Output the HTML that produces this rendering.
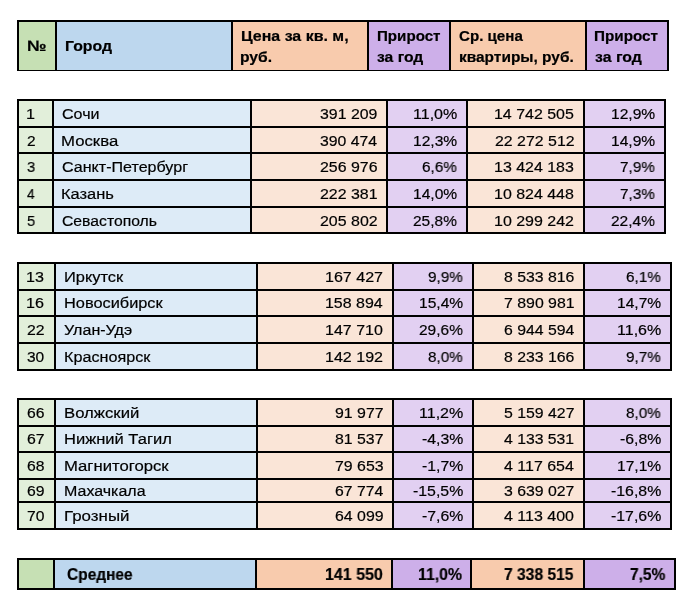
<!DOCTYPE html>
<html><head><meta charset="utf-8"><style>
html,body{margin:0;padding:0;background:#fff;width:691px;height:609px;overflow:hidden}
body{position:relative;font-family:"Liberation Sans",sans-serif;color:#000}
div,span{position:absolute}
span{white-space:nowrap;transform-origin:0 0;will-change:transform;-webkit-text-stroke:0.2px #000}
</style></head><body>
<div style="left:19px;top:22px;width:36px;height:48px;background:#C6E0B4"></div>
<div style="left:57px;top:22px;width:174px;height:48px;background:#BDD7EE"></div>
<div style="left:233px;top:22px;width:134px;height:48px;background:#F8CBAD"></div>
<div style="left:369px;top:22px;width:80px;height:48px;background:#CDAFE9"></div>
<div style="left:451px;top:22px;width:134px;height:48px;background:#F8CBAD"></div>
<div style="left:587px;top:22px;width:80px;height:48px;background:#CDAFE9"></div>
<div style="left:17px;top:20px;width:2px;height:51px;background:#000"></div>
<div style="left:55px;top:20px;width:2px;height:51px;background:#000"></div>
<div style="left:231px;top:20px;width:2px;height:51px;background:#000"></div>
<div style="left:367px;top:20px;width:2px;height:51px;background:#000"></div>
<div style="left:449px;top:20px;width:2px;height:51px;background:#000"></div>
<div style="left:585px;top:20px;width:2px;height:51px;background:#000"></div>
<div style="left:667px;top:20px;width:2px;height:51px;background:#000"></div>
<div style="left:17px;top:20px;width:652px;height:2px;background:#000"></div>
<div style="left:17px;top:70px;width:652px;height:1px;background:#000"></div>
<span style="left:26.82px;top:38.00px;font-size:15.0px;line-height:15.0px;font-weight:700;transform:scale(1.1658,1.0000);transform-origin:0 12.70px;">№</span>
<span style="left:64.53px;top:38.00px;font-size:15.0px;line-height:15.0px;font-weight:700;transform:scale(1.0560,1.0000);transform-origin:0 12.70px;">Город</span>
<span style="left:240.52px;top:28.20px;font-size:15.0px;line-height:15.0px;font-weight:700;transform:scale(1.0634,1.0000);transform-origin:0 12.70px;">Цена за кв. м,</span>
<span style="left:240.38px;top:48.50px;font-size:15.0px;line-height:15.0px;font-weight:700;transform:scale(1.0430,1.0000);transform-origin:0 12.70px;">руб.</span>
<span style="left:376.78px;top:28.20px;font-size:15.0px;line-height:15.0px;font-weight:700;transform:scale(1.0085,1.0000);transform-origin:0 12.70px;">Прирост</span>
<span style="left:376.87px;top:48.50px;font-size:15.0px;line-height:15.0px;font-weight:700;transform:scale(1.0456,1.0000);transform-origin:0 12.70px;">за год</span>
<span style="left:458.99px;top:28.20px;font-size:15.0px;line-height:15.0px;font-weight:700;transform:scale(1.0084,1.0000);transform-origin:0 12.70px;">Ср. цена</span>
<span style="left:458.52px;top:48.50px;font-size:15.0px;line-height:15.0px;font-weight:700;transform:scale(1.0294,1.0000);transform-origin:0 12.70px;">квартиры, руб.</span>
<span style="left:594.37px;top:28.20px;font-size:15.0px;line-height:15.0px;font-weight:700;transform:scale(1.0166,1.0000);transform-origin:0 12.70px;">Прирост</span>
<span style="left:594.56px;top:48.50px;font-size:15.0px;line-height:15.0px;font-weight:700;transform:scale(1.0570,1.0000);transform-origin:0 12.70px;">за год</span>
<div style="left:19px;top:101px;width:33px;height:25px;background:#E2EFDA"></div>
<div style="left:54px;top:101px;width:196px;height:25px;background:#DDEBF7"></div>
<div style="left:252px;top:101px;width:134px;height:25px;background:#FAE5D7"></div>
<div style="left:388px;top:101px;width:78px;height:25px;background:#E2D0F2"></div>
<div style="left:468px;top:101px;width:115px;height:25px;background:#FAE5D7"></div>
<div style="left:585px;top:101px;width:79px;height:25px;background:#E2D0F2"></div>
<div style="left:19px;top:128px;width:33px;height:24px;background:#E2EFDA"></div>
<div style="left:54px;top:128px;width:196px;height:24px;background:#DDEBF7"></div>
<div style="left:252px;top:128px;width:134px;height:24px;background:#FAE5D7"></div>
<div style="left:388px;top:128px;width:78px;height:24px;background:#E2D0F2"></div>
<div style="left:468px;top:128px;width:115px;height:24px;background:#FAE5D7"></div>
<div style="left:585px;top:128px;width:79px;height:24px;background:#E2D0F2"></div>
<div style="left:19px;top:154px;width:33px;height:25px;background:#E2EFDA"></div>
<div style="left:54px;top:154px;width:196px;height:25px;background:#DDEBF7"></div>
<div style="left:252px;top:154px;width:134px;height:25px;background:#FAE5D7"></div>
<div style="left:388px;top:154px;width:78px;height:25px;background:#E2D0F2"></div>
<div style="left:468px;top:154px;width:115px;height:25px;background:#FAE5D7"></div>
<div style="left:585px;top:154px;width:79px;height:25px;background:#E2D0F2"></div>
<div style="left:19px;top:181px;width:33px;height:25px;background:#E2EFDA"></div>
<div style="left:54px;top:181px;width:196px;height:25px;background:#DDEBF7"></div>
<div style="left:252px;top:181px;width:134px;height:25px;background:#FAE5D7"></div>
<div style="left:388px;top:181px;width:78px;height:25px;background:#E2D0F2"></div>
<div style="left:468px;top:181px;width:115px;height:25px;background:#FAE5D7"></div>
<div style="left:585px;top:181px;width:79px;height:25px;background:#E2D0F2"></div>
<div style="left:19px;top:208px;width:33px;height:24px;background:#E2EFDA"></div>
<div style="left:54px;top:208px;width:196px;height:24px;background:#DDEBF7"></div>
<div style="left:252px;top:208px;width:134px;height:24px;background:#FAE5D7"></div>
<div style="left:388px;top:208px;width:78px;height:24px;background:#E2D0F2"></div>
<div style="left:468px;top:208px;width:115px;height:24px;background:#FAE5D7"></div>
<div style="left:585px;top:208px;width:79px;height:24px;background:#E2D0F2"></div>
<div style="left:17px;top:99px;width:2px;height:135px;background:#000"></div>
<div style="left:52px;top:99px;width:2px;height:135px;background:#000"></div>
<div style="left:250px;top:99px;width:2px;height:135px;background:#000"></div>
<div style="left:386px;top:99px;width:2px;height:135px;background:#000"></div>
<div style="left:466px;top:99px;width:2px;height:135px;background:#000"></div>
<div style="left:583px;top:99px;width:2px;height:135px;background:#000"></div>
<div style="left:664px;top:99px;width:2px;height:135px;background:#000"></div>
<div style="left:17px;top:99px;width:649px;height:2px;background:#000"></div>
<div style="left:17px;top:126px;width:649px;height:2px;background:#000"></div>
<div style="left:17px;top:152px;width:649px;height:2px;background:#000"></div>
<div style="left:17px;top:179px;width:649px;height:2px;background:#000"></div>
<div style="left:17px;top:206px;width:649px;height:2px;background:#000"></div>
<div style="left:17px;top:232px;width:649px;height:2px;background:#000"></div>
<span style="left:26.19px;top:105.88px;font-size:15.5px;line-height:15.5px;font-weight:400;transform:scale(1.0442,1.0000);transform-origin:0 13.12px;">1</span>
<span style="left:61.60px;top:105.88px;font-size:15.5px;line-height:15.5px;font-weight:400;transform:scale(1.0357,1.0000);transform-origin:0 13.12px;">Сочи</span>
<span style="left:319.91px;top:105.88px;font-size:15.5px;line-height:15.5px;font-weight:400;transform:scale(1.0235,1.0000);transform-origin:0 13.12px;">391 209</span>
<span style="left:412.80px;top:105.88px;font-size:15.5px;line-height:15.5px;font-weight:400;transform:scale(1.0347,1.0000);transform-origin:0 13.12px;">11,0%</span>
<span style="left:494.30px;top:105.88px;font-size:15.5px;line-height:15.5px;font-weight:400;transform:scale(1.0291,1.0000);transform-origin:0 13.12px;">14 742 505</span>
<span style="left:610.83px;top:105.88px;font-size:15.5px;line-height:15.5px;font-weight:400;transform:scale(1.0062,1.0000);transform-origin:0 13.12px;">12,9%</span>
<span style="left:26.63px;top:132.88px;font-size:15.5px;line-height:15.5px;font-weight:400;transform:scale(0.9926,1.0000);transform-origin:0 13.12px;">2</span>
<span style="left:61.02px;top:132.88px;font-size:15.5px;line-height:15.5px;font-weight:400;transform:scale(1.0811,1.0000);transform-origin:0 13.12px;">Москва</span>
<span style="left:319.91px;top:132.88px;font-size:15.5px;line-height:15.5px;font-weight:400;transform:scale(1.0184,1.0000);transform-origin:0 13.12px;">390 474</span>
<span style="left:412.83px;top:132.88px;font-size:15.5px;line-height:15.5px;font-weight:400;transform:scale(1.0062,1.0000);transform-origin:0 13.12px;">12,3%</span>
<span style="left:494.70px;top:132.88px;font-size:15.5px;line-height:15.5px;font-weight:400;transform:scale(1.0259,1.0000);transform-origin:0 13.12px;">22 272 512</span>
<span style="left:610.83px;top:132.88px;font-size:15.5px;line-height:15.5px;font-weight:400;transform:scale(1.0062,1.0000);transform-origin:0 13.12px;">14,9%</span>
<span style="left:26.85px;top:158.88px;font-size:15.5px;line-height:15.5px;font-weight:400;transform:scale(0.9508,1.0000);transform-origin:0 13.12px;">3</span>
<span style="left:61.60px;top:158.88px;font-size:15.5px;line-height:15.5px;font-weight:400;transform:scale(1.0364,1.0000);transform-origin:0 13.12px;">Санкт-Петербург</span>
<span style="left:319.70px;top:158.88px;font-size:15.5px;line-height:15.5px;font-weight:400;transform:scale(1.0264,1.0000);transform-origin:0 13.12px;">256 976</span>
<span style="left:422.24px;top:158.88px;font-size:15.5px;line-height:15.5px;font-weight:400;transform:scale(0.9858,1.0000);transform-origin:0 13.12px;">6,6%</span>
<span style="left:494.30px;top:158.88px;font-size:15.5px;line-height:15.5px;font-weight:400;transform:scale(1.0296,1.0000);transform-origin:0 13.12px;">13 424 183</span>
<span style="left:620.20px;top:158.88px;font-size:15.5px;line-height:15.5px;font-weight:400;transform:scale(0.9869,1.0000);transform-origin:0 13.12px;">7,9%</span>
<span style="left:27.09px;top:185.88px;font-size:15.5px;line-height:15.5px;font-weight:400;transform:scale(0.8943,1.0000);transform-origin:0 13.12px;">4</span>
<span style="left:61.04px;top:185.88px;font-size:15.5px;line-height:15.5px;font-weight:400;transform:scale(1.0619,1.0000);transform-origin:0 13.12px;">Казань</span>
<span style="left:319.70px;top:185.88px;font-size:15.5px;line-height:15.5px;font-weight:400;transform:scale(1.0279,1.0000);transform-origin:0 13.12px;">222 381</span>
<span style="left:412.83px;top:185.88px;font-size:15.5px;line-height:15.5px;font-weight:400;transform:scale(1.0062,1.0000);transform-origin:0 13.12px;">14,0%</span>
<span style="left:494.30px;top:185.88px;font-size:15.5px;line-height:15.5px;font-weight:400;transform:scale(1.0296,1.0000);transform-origin:0 13.12px;">10 824 448</span>
<span style="left:620.20px;top:185.88px;font-size:15.5px;line-height:15.5px;font-weight:400;transform:scale(0.9869,1.0000);transform-origin:0 13.12px;">7,3%</span>
<span style="left:26.81px;top:212.88px;font-size:15.5px;line-height:15.5px;font-weight:400;transform:scale(0.9508,1.0000);transform-origin:0 13.12px;">5</span>
<span style="left:61.61px;top:212.88px;font-size:15.5px;line-height:15.5px;font-weight:400;transform:scale(1.0143,1.0000);transform-origin:0 13.12px;">Севастополь</span>
<span style="left:319.70px;top:212.88px;font-size:15.5px;line-height:15.5px;font-weight:400;transform:scale(1.0286,1.0000);transform-origin:0 13.12px;">205 802</span>
<span style="left:413.23px;top:212.88px;font-size:15.5px;line-height:15.5px;font-weight:400;transform:scale(0.9971,1.0000);transform-origin:0 13.12px;">25,8%</span>
<span style="left:494.30px;top:212.88px;font-size:15.5px;line-height:15.5px;font-weight:400;transform:scale(1.0312,1.0000);transform-origin:0 13.12px;">10 299 242</span>
<span style="left:611.23px;top:212.88px;font-size:15.5px;line-height:15.5px;font-weight:400;transform:scale(0.9971,1.0000);transform-origin:0 13.12px;">22,4%</span>
<div style="left:19px;top:264px;width:35px;height:25px;background:#E2EFDA"></div>
<div style="left:56px;top:264px;width:200px;height:25px;background:#DDEBF7"></div>
<div style="left:258px;top:264px;width:134px;height:25px;background:#FAE5D7"></div>
<div style="left:394px;top:264px;width:78px;height:25px;background:#E2D0F2"></div>
<div style="left:474px;top:264px;width:109px;height:25px;background:#FAE5D7"></div>
<div style="left:585px;top:264px;width:85px;height:25px;background:#E2D0F2"></div>
<div style="left:19px;top:291px;width:35px;height:24px;background:#E2EFDA"></div>
<div style="left:56px;top:291px;width:200px;height:24px;background:#DDEBF7"></div>
<div style="left:258px;top:291px;width:134px;height:24px;background:#FAE5D7"></div>
<div style="left:394px;top:291px;width:78px;height:24px;background:#E2D0F2"></div>
<div style="left:474px;top:291px;width:109px;height:24px;background:#FAE5D7"></div>
<div style="left:585px;top:291px;width:85px;height:24px;background:#E2D0F2"></div>
<div style="left:19px;top:317px;width:35px;height:25px;background:#E2EFDA"></div>
<div style="left:56px;top:317px;width:200px;height:25px;background:#DDEBF7"></div>
<div style="left:258px;top:317px;width:134px;height:25px;background:#FAE5D7"></div>
<div style="left:394px;top:317px;width:78px;height:25px;background:#E2D0F2"></div>
<div style="left:474px;top:317px;width:109px;height:25px;background:#FAE5D7"></div>
<div style="left:585px;top:317px;width:85px;height:25px;background:#E2D0F2"></div>
<div style="left:19px;top:344px;width:35px;height:25px;background:#E2EFDA"></div>
<div style="left:56px;top:344px;width:200px;height:25px;background:#DDEBF7"></div>
<div style="left:258px;top:344px;width:134px;height:25px;background:#FAE5D7"></div>
<div style="left:394px;top:344px;width:78px;height:25px;background:#E2D0F2"></div>
<div style="left:474px;top:344px;width:109px;height:25px;background:#FAE5D7"></div>
<div style="left:585px;top:344px;width:85px;height:25px;background:#E2D0F2"></div>
<div style="left:17px;top:262px;width:2px;height:109px;background:#000"></div>
<div style="left:54px;top:262px;width:2px;height:109px;background:#000"></div>
<div style="left:256px;top:262px;width:2px;height:109px;background:#000"></div>
<div style="left:392px;top:262px;width:2px;height:109px;background:#000"></div>
<div style="left:472px;top:262px;width:2px;height:109px;background:#000"></div>
<div style="left:583px;top:262px;width:2px;height:109px;background:#000"></div>
<div style="left:670px;top:262px;width:2px;height:109px;background:#000"></div>
<div style="left:17px;top:262px;width:655px;height:2px;background:#000"></div>
<div style="left:17px;top:289px;width:655px;height:2px;background:#000"></div>
<div style="left:17px;top:315px;width:655px;height:2px;background:#000"></div>
<div style="left:17px;top:342px;width:655px;height:2px;background:#000"></div>
<div style="left:17px;top:369px;width:655px;height:2px;background:#000"></div>
<span style="left:26.19px;top:268.88px;font-size:15.5px;line-height:15.5px;font-weight:400;transform:scale(1.0401,1.0000);transform-origin:0 13.12px;">13</span>
<span style="left:63.54px;top:268.88px;font-size:15.5px;line-height:15.5px;font-weight:400;transform:scale(1.0600,1.0000);transform-origin:0 13.12px;">Иркутск</span>
<span style="left:325.30px;top:268.88px;font-size:15.5px;line-height:15.5px;font-weight:400;transform:scale(1.0360,1.0000);transform-origin:0 13.12px;">167 427</span>
<span style="left:428.28px;top:268.88px;font-size:15.5px;line-height:15.5px;font-weight:400;transform:scale(0.9846,1.0000);transform-origin:0 13.12px;">9,9%</span>
<span style="left:503.83px;top:268.88px;font-size:15.5px;line-height:15.5px;font-weight:400;transform:scale(1.0204,1.0000);transform-origin:0 13.12px;">8 533 816</span>
<span style="left:626.24px;top:268.88px;font-size:15.5px;line-height:15.5px;font-weight:400;transform:scale(0.9858,1.0000);transform-origin:0 13.12px;">6,1%</span>
<span style="left:26.19px;top:294.88px;font-size:15.5px;line-height:15.5px;font-weight:400;transform:scale(1.0401,1.0000);transform-origin:0 13.12px;">16</span>
<span style="left:63.55px;top:294.88px;font-size:15.5px;line-height:15.5px;font-weight:400;transform:scale(1.0543,1.0000);transform-origin:0 13.12px;">Новосибирск</span>
<span style="left:325.30px;top:294.88px;font-size:15.5px;line-height:15.5px;font-weight:400;transform:scale(1.0293,1.0000);transform-origin:0 13.12px;">158 894</span>
<span style="left:418.83px;top:294.88px;font-size:15.5px;line-height:15.5px;font-weight:400;transform:scale(1.0062,1.0000);transform-origin:0 13.12px;">15,4%</span>
<span style="left:503.67px;top:294.88px;font-size:15.5px;line-height:15.5px;font-weight:400;transform:scale(1.0239,1.0000);transform-origin:0 13.12px;">7 890 981</span>
<span style="left:616.83px;top:294.88px;font-size:15.5px;line-height:15.5px;font-weight:400;transform:scale(1.0062,1.0000);transform-origin:0 13.12px;">14,7%</span>
<span style="left:26.61px;top:321.88px;font-size:15.5px;line-height:15.5px;font-weight:400;transform:scale(1.0220,1.0000);transform-origin:0 13.12px;">22</span>
<span style="left:64.46px;top:321.88px;font-size:15.5px;line-height:15.5px;font-weight:400;transform:scale(1.0344,1.0000);transform-origin:0 13.12px;">Улан-Удэ</span>
<span style="left:325.30px;top:321.88px;font-size:15.5px;line-height:15.5px;font-weight:400;transform:scale(1.0323,1.0000);transform-origin:0 13.12px;">147 710</span>
<span style="left:419.23px;top:321.88px;font-size:15.5px;line-height:15.5px;font-weight:400;transform:scale(0.9971,1.0000);transform-origin:0 13.12px;">29,6%</span>
<span style="left:503.71px;top:321.88px;font-size:15.5px;line-height:15.5px;font-weight:400;transform:scale(1.0187,1.0000);transform-origin:0 13.12px;">6 944 594</span>
<span style="left:616.80px;top:321.88px;font-size:15.5px;line-height:15.5px;font-weight:400;transform:scale(1.0347,1.0000);transform-origin:0 13.12px;">11,6%</span>
<span style="left:26.82px;top:348.88px;font-size:15.5px;line-height:15.5px;font-weight:400;transform:scale(0.9974,1.0000);transform-origin:0 13.12px;">30</span>
<span style="left:63.57px;top:348.88px;font-size:15.5px;line-height:15.5px;font-weight:400;transform:scale(1.0438,1.0000);transform-origin:0 13.12px;">Красноярск</span>
<span style="left:325.30px;top:348.88px;font-size:15.5px;line-height:15.5px;font-weight:400;transform:scale(1.0360,1.0000);transform-origin:0 13.12px;">142 192</span>
<span style="left:428.35px;top:348.88px;font-size:15.5px;line-height:15.5px;font-weight:400;transform:scale(0.9824,1.0000);transform-origin:0 13.12px;">8,0%</span>
<span style="left:503.83px;top:348.88px;font-size:15.5px;line-height:15.5px;font-weight:400;transform:scale(1.0204,1.0000);transform-origin:0 13.12px;">8 233 166</span>
<span style="left:626.28px;top:348.88px;font-size:15.5px;line-height:15.5px;font-weight:400;transform:scale(0.9846,1.0000);transform-origin:0 13.12px;">9,7%</span>
<div style="left:19px;top:400px;width:35px;height:25px;background:#E2EFDA"></div>
<div style="left:56px;top:400px;width:200px;height:25px;background:#DDEBF7"></div>
<div style="left:258px;top:400px;width:134px;height:25px;background:#FAE5D7"></div>
<div style="left:394px;top:400px;width:78px;height:25px;background:#E2D0F2"></div>
<div style="left:474px;top:400px;width:109px;height:25px;background:#FAE5D7"></div>
<div style="left:585px;top:400px;width:85px;height:25px;background:#E2D0F2"></div>
<div style="left:19px;top:427px;width:35px;height:24px;background:#E2EFDA"></div>
<div style="left:56px;top:427px;width:200px;height:24px;background:#DDEBF7"></div>
<div style="left:258px;top:427px;width:134px;height:24px;background:#FAE5D7"></div>
<div style="left:394px;top:427px;width:78px;height:24px;background:#E2D0F2"></div>
<div style="left:474px;top:427px;width:109px;height:24px;background:#FAE5D7"></div>
<div style="left:585px;top:427px;width:85px;height:24px;background:#E2D0F2"></div>
<div style="left:19px;top:453px;width:35px;height:25px;background:#E2EFDA"></div>
<div style="left:56px;top:453px;width:200px;height:25px;background:#DDEBF7"></div>
<div style="left:258px;top:453px;width:134px;height:25px;background:#FAE5D7"></div>
<div style="left:394px;top:453px;width:78px;height:25px;background:#E2D0F2"></div>
<div style="left:474px;top:453px;width:109px;height:25px;background:#FAE5D7"></div>
<div style="left:585px;top:453px;width:85px;height:25px;background:#E2D0F2"></div>
<div style="left:19px;top:480px;width:35px;height:21px;background:#E2EFDA"></div>
<div style="left:56px;top:480px;width:200px;height:21px;background:#DDEBF7"></div>
<div style="left:258px;top:480px;width:134px;height:21px;background:#FAE5D7"></div>
<div style="left:394px;top:480px;width:78px;height:21px;background:#E2D0F2"></div>
<div style="left:474px;top:480px;width:109px;height:21px;background:#FAE5D7"></div>
<div style="left:585px;top:480px;width:85px;height:21px;background:#E2D0F2"></div>
<div style="left:19px;top:503px;width:35px;height:25px;background:#E2EFDA"></div>
<div style="left:56px;top:503px;width:200px;height:25px;background:#DDEBF7"></div>
<div style="left:258px;top:503px;width:134px;height:25px;background:#FAE5D7"></div>
<div style="left:394px;top:503px;width:78px;height:25px;background:#E2D0F2"></div>
<div style="left:474px;top:503px;width:109px;height:25px;background:#FAE5D7"></div>
<div style="left:585px;top:503px;width:85px;height:25px;background:#E2D0F2"></div>
<div style="left:17px;top:398px;width:2px;height:132px;background:#000"></div>
<div style="left:54px;top:398px;width:2px;height:132px;background:#000"></div>
<div style="left:256px;top:398px;width:2px;height:132px;background:#000"></div>
<div style="left:392px;top:398px;width:2px;height:132px;background:#000"></div>
<div style="left:472px;top:398px;width:2px;height:132px;background:#000"></div>
<div style="left:583px;top:398px;width:2px;height:132px;background:#000"></div>
<div style="left:670px;top:398px;width:2px;height:132px;background:#000"></div>
<div style="left:17px;top:398px;width:655px;height:2px;background:#000"></div>
<div style="left:17px;top:425px;width:655px;height:2px;background:#000"></div>
<div style="left:17px;top:451px;width:655px;height:2px;background:#000"></div>
<div style="left:17px;top:478px;width:655px;height:2px;background:#000"></div>
<div style="left:17px;top:501px;width:655px;height:2px;background:#000"></div>
<div style="left:17px;top:528px;width:655px;height:2px;background:#000"></div>
<span style="left:26.61px;top:404.88px;font-size:15.5px;line-height:15.5px;font-weight:400;transform:scale(1.0145,1.0000);transform-origin:0 13.12px;">66</span>
<span style="left:63.52px;top:404.88px;font-size:15.5px;line-height:15.5px;font-weight:400;transform:scale(1.0779,1.0000);transform-origin:0 13.12px;">Волжский</span>
<span style="left:334.75px;top:404.88px;font-size:15.5px;line-height:15.5px;font-weight:400;transform:scale(1.0244,1.0000);transform-origin:0 13.12px;">91 977</span>
<span style="left:418.80px;top:404.88px;font-size:15.5px;line-height:15.5px;font-weight:400;transform:scale(1.0347,1.0000);transform-origin:0 13.12px;">11,2%</span>
<span style="left:503.87px;top:404.88px;font-size:15.5px;line-height:15.5px;font-weight:400;transform:scale(1.0216,1.0000);transform-origin:0 13.12px;">5 159 427</span>
<span style="left:626.35px;top:404.88px;font-size:15.5px;line-height:15.5px;font-weight:400;transform:scale(0.9824,1.0000);transform-origin:0 13.12px;">8,0%</span>
<span style="left:26.61px;top:430.88px;font-size:15.5px;line-height:15.5px;font-weight:400;transform:scale(1.0220,1.0000);transform-origin:0 13.12px;">67</span>
<span style="left:63.54px;top:430.88px;font-size:15.5px;line-height:15.5px;font-weight:400;transform:scale(1.0657,1.0000);transform-origin:0 13.12px;">Нижний Тагил</span>
<span style="left:334.83px;top:430.88px;font-size:15.5px;line-height:15.5px;font-weight:400;transform:scale(1.0227,1.0000);transform-origin:0 13.12px;">81 537</span>
<span style="left:421.79px;top:430.88px;font-size:15.5px;line-height:15.5px;font-weight:400;transform:scale(1.0200,1.0000);transform-origin:0 13.12px;">-4,3%</span>
<span style="left:504.15px;top:430.88px;font-size:15.5px;line-height:15.5px;font-weight:400;transform:scale(1.0169,1.0000);transform-origin:0 13.12px;">4 133 531</span>
<span style="left:619.79px;top:430.88px;font-size:15.5px;line-height:15.5px;font-weight:400;transform:scale(1.0200,1.0000);transform-origin:0 13.12px;">-6,8%</span>
<span style="left:26.61px;top:457.88px;font-size:15.5px;line-height:15.5px;font-weight:400;transform:scale(1.0145,1.0000);transform-origin:0 13.12px;">68</span>
<span style="left:63.52px;top:457.88px;font-size:15.5px;line-height:15.5px;font-weight:400;transform:scale(1.0758,1.0000);transform-origin:0 13.12px;">Магнитогорск</span>
<span style="left:334.67px;top:457.88px;font-size:15.5px;line-height:15.5px;font-weight:400;transform:scale(1.0235,1.0000);transform-origin:0 13.12px;">79 653</span>
<span style="left:421.79px;top:457.88px;font-size:15.5px;line-height:15.5px;font-weight:400;transform:scale(1.0200,1.0000);transform-origin:0 13.12px;">-1,7%</span>
<span style="left:504.14px;top:457.88px;font-size:15.5px;line-height:15.5px;font-weight:400;transform:scale(1.0299,1.0000);transform-origin:0 13.12px;">4 117 654</span>
<span style="left:616.83px;top:457.88px;font-size:15.5px;line-height:15.5px;font-weight:400;transform:scale(1.0062,1.0000);transform-origin:0 13.12px;">17,1%</span>
<span style="left:26.61px;top:482.88px;font-size:15.5px;line-height:15.5px;font-weight:400;transform:scale(1.0170,1.0000);transform-origin:0 13.12px;">69</span>
<span style="left:63.58px;top:482.88px;font-size:15.5px;line-height:15.5px;font-weight:400;transform:scale(1.0317,1.0000);transform-origin:0 13.12px;">Махачкала</span>
<span style="left:334.71px;top:482.88px;font-size:15.5px;line-height:15.5px;font-weight:400;transform:scale(1.0175,1.0000);transform-origin:0 13.12px;">67 774</span>
<span style="left:412.79px;top:482.88px;font-size:15.5px;line-height:15.5px;font-weight:400;transform:scale(1.0239,1.0000);transform-origin:0 13.12px;">-15,5%</span>
<span style="left:503.91px;top:482.88px;font-size:15.5px;line-height:15.5px;font-weight:400;transform:scale(1.0210,1.0000);transform-origin:0 13.12px;">3 639 027</span>
<span style="left:610.79px;top:482.88px;font-size:15.5px;line-height:15.5px;font-weight:400;transform:scale(1.0239,1.0000);transform-origin:0 13.12px;">-16,8%</span>
<span style="left:26.58px;top:507.88px;font-size:15.5px;line-height:15.5px;font-weight:400;transform:scale(1.0120,1.0000);transform-origin:0 13.12px;">70</span>
<span style="left:63.51px;top:507.88px;font-size:15.5px;line-height:15.5px;font-weight:400;transform:scale(1.0901,1.0000);transform-origin:0 13.12px;">Грозный</span>
<span style="left:334.71px;top:507.88px;font-size:15.5px;line-height:15.5px;font-weight:400;transform:scale(1.0235,1.0000);transform-origin:0 13.12px;">64 099</span>
<span style="left:421.79px;top:507.88px;font-size:15.5px;line-height:15.5px;font-weight:400;transform:scale(1.0200,1.0000);transform-origin:0 13.12px;">-7,6%</span>
<span style="left:504.14px;top:507.88px;font-size:15.5px;line-height:15.5px;font-weight:400;transform:scale(1.0323,1.0000);transform-origin:0 13.12px;">4 113 400</span>
<span style="left:610.79px;top:507.88px;font-size:15.5px;line-height:15.5px;font-weight:400;transform:scale(1.0239,1.0000);transform-origin:0 13.12px;">-17,6%</span>
<div style="left:19px;top:560px;width:34px;height:28px;background:#C6E0B4"></div>
<div style="left:55px;top:560px;width:200px;height:28px;background:#BDD7EE"></div>
<div style="left:257px;top:560px;width:134px;height:28px;background:#F8CBAD"></div>
<div style="left:393px;top:560px;width:77px;height:28px;background:#CDAFE9"></div>
<div style="left:472px;top:560px;width:111px;height:28px;background:#F8CBAD"></div>
<div style="left:585px;top:560px;width:89px;height:28px;background:#CDAFE9"></div>
<div style="left:17px;top:558px;width:2px;height:32px;background:#000"></div>
<div style="left:53px;top:558px;width:2px;height:32px;background:#000"></div>
<div style="left:255px;top:558px;width:2px;height:32px;background:#000"></div>
<div style="left:391px;top:558px;width:2px;height:32px;background:#000"></div>
<div style="left:470px;top:558px;width:2px;height:32px;background:#000"></div>
<div style="left:583px;top:558px;width:2px;height:32px;background:#000"></div>
<div style="left:674px;top:558px;width:2px;height:32px;background:#000"></div>
<div style="left:17px;top:558px;width:659px;height:2px;background:#000"></div>
<div style="left:17px;top:588px;width:659px;height:2px;background:#000"></div>
<span style="left:66.88px;top:566.24px;font-size:16.25px;line-height:16.25px;font-weight:700;transform:scale(0.9524,1.0000);transform-origin:0 13.76px;">Среднее</span>
<span style="left:324.60px;top:566.24px;font-size:16.25px;line-height:16.25px;font-weight:700;transform:scale(0.9836,1.0000);transform-origin:0 13.76px;">141 550</span>
<span style="left:417.91px;top:566.24px;font-size:16.25px;line-height:16.25px;font-weight:700;transform:scale(0.9723,1.0000);transform-origin:0 13.76px;">11,0%</span>
<span style="left:504.34px;top:566.24px;font-size:16.25px;line-height:16.25px;font-weight:700;transform:scale(0.9602,1.0000);transform-origin:0 13.76px;">7 338 515</span>
<span style="left:629.54px;top:566.24px;font-size:16.25px;line-height:16.25px;font-weight:700;transform:scale(0.9551,1.0000);transform-origin:0 13.76px;">7,5%</span>
</body></html>
